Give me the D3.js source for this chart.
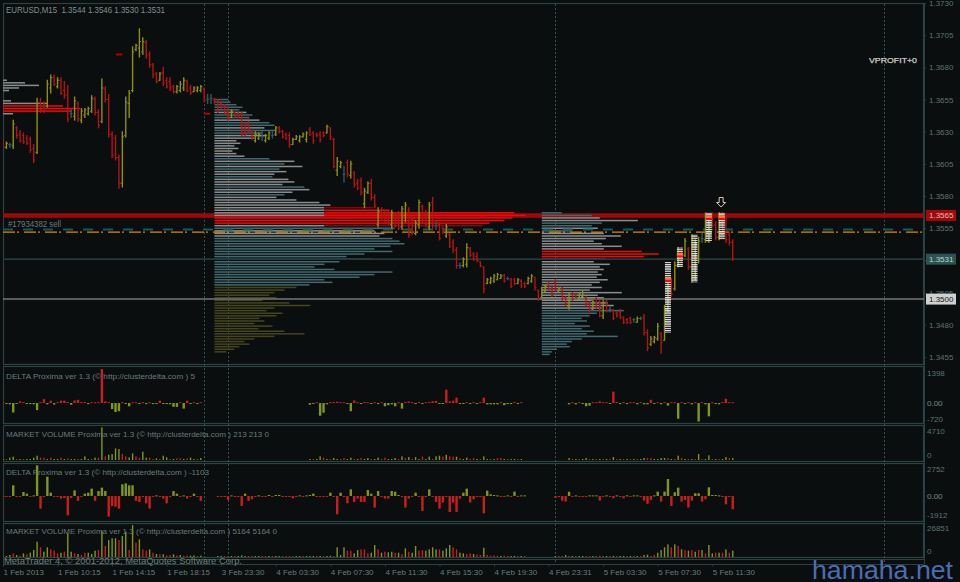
<!DOCTYPE html>
<html><head><meta charset="utf-8">
<script src="https://cdn.jsdelivr.net/npm/d3@7"></script>
<style>
html,body{margin:0;padding:0;background:#0a0e0e;}
svg{display:block;}
text{font-family:"Liberation Sans",Arial,sans-serif;}
</style></head><body>
<svg id="chart" width="960" height="582"></svg>
<script>
// ---------------- DATA ----------------
const symbol = "EURUSD,M15";
const lastOHLC = [1.3544, 1.3546, 1.3530, 1.3531];
const N = 215;
const opens = [1.3622,1.3618,1.3620,1.3619,1.3633,1.3628,1.3627,1.3625,1.3624,1.3617,
1.3614,1.3653,1.3648,1.3650,1.3664,1.3672,1.3665,1.3670,1.3662,1.3659,
1.3644,1.3642,1.3652,1.3639,1.3643,1.3644,1.3646,1.3655,1.3645,1.3638,
1.3663,1.3655,1.3628,1.3625,1.3610,1.3590,1.3627,1.3652,1.3662,1.3694,
1.3695,1.3692,1.3699,1.3690,1.3682,1.3675,1.3670,1.3676,1.3670,1.3669,
1.3665,1.3661,1.3662,1.3664,1.3669,1.3664,1.3661,1.3662,1.3662,1.3663,
1.3655,1.3656,1.3655,1.3653,1.3652,1.3649,1.3645,1.3641,1.3645,1.3644,
1.3643,1.3635,1.3636,1.3630,1.3623,1.3625,1.3626,1.3623,1.3625,1.3627,
1.3628,1.3633,1.3630,1.3628,1.3627,1.3620,1.3624,1.3623,1.3626,1.3624,
1.3632,1.3629,1.3628,1.3628,1.3629,1.3629,1.3633,1.3624,1.3600,1.3603,
1.3597,1.3606,1.3596,1.3598,1.3590,1.3592,1.3574,1.3583,1.3590,1.3579,
1.3558,1.3569,1.3566,1.3566,1.3558,1.3566,1.3564,1.3556,1.3565,1.3569,
1.3562,1.3551,1.3558,1.3572,1.3567,1.3556,1.3575,1.3557,1.3558,1.3555,
1.3549,1.3550,1.3544,1.3538,1.3526,1.3526,1.3527,1.3539,1.3535,1.3533,
1.3529,1.3525,1.3512,1.3513,1.3514,1.3515,1.3516,1.3518,1.3516,1.3515,
1.3515,1.3512,1.3514,1.3512,1.3512,1.3514,1.3517,1.3507,1.3501,1.3506,
1.3512,1.3508,1.3513,1.3506,1.3508,1.3501,1.3494,1.3504,1.3503,1.3500,
1.3502,1.3501,1.3497,1.3492,1.3500,1.3498,1.3487,1.3498,1.3492,1.3491,
1.3489,1.3490,1.3486,1.3484,1.3485,1.3484,1.3482,1.3485,1.3486,1.3474,
1.3465,1.3467,1.3469,1.3473,1.3468,1.3492,1.3510,1.3508,1.3526,1.3538,
1.3534,1.3539,1.3525,1.3520,1.3530,1.3547,1.3546,1.3545,1.3565,1.3558,
1.3548,1.3564,1.3560,1.3550,1.3544];
const highs = [1.3624,1.3622,1.3621,1.3639,1.3634,1.3631,1.3629,1.3627,1.3626,1.3620,
1.3656,1.3656,1.3653,1.3670,1.3674,1.3674,1.3672,1.3672,1.3669,1.3666,
1.3647,1.3657,1.3653,1.3648,1.3648,1.3649,1.3658,1.3657,1.3647,1.3671,
1.3665,1.3659,1.3630,1.3627,1.3612,1.3630,1.3657,1.3662,1.3696,1.3698,
1.3710,1.3703,1.3701,1.3692,1.3683,1.3676,1.3676,1.3680,1.3672,1.3672,
1.3666,1.3666,1.3669,1.3672,1.3670,1.3666,1.3665,1.3665,1.3666,1.3664,
1.3659,1.3659,1.3656,1.3655,1.3653,1.3651,1.3649,1.3647,1.3645,1.3645,
1.3645,1.3637,1.3638,1.3631,1.3630,1.3629,1.3630,1.3628,1.3630,1.3630,
1.3634,1.3634,1.3631,1.3629,1.3629,1.3625,1.3627,1.3627,1.3629,1.3630,
1.3633,1.3630,1.3629,1.3630,1.3630,1.3635,1.3633,1.3625,1.3610,1.3607,
1.3603,1.3608,1.3607,1.3599,1.3593,1.3594,1.3586,1.3591,1.3593,1.3581,
1.3571,1.3571,1.3569,1.3568,1.3569,1.3567,1.3568,1.3572,1.3575,1.3571,
1.3564,1.3561,1.3577,1.3573,1.3569,1.3575,1.3579,1.3560,1.3559,1.3556,
1.3558,1.3551,1.3546,1.3540,1.3528,1.3532,1.3543,1.3540,1.3536,1.3536,
1.3529,1.3525,1.3516,1.3517,1.3519,1.3520,1.3519,1.3519,1.3517,1.3516,
1.3516,1.3516,1.3515,1.3513,1.3517,1.3519,1.3517,1.3507,1.3509,1.3511,
1.3513,1.3509,1.3515,1.3509,1.3509,1.3502,1.3505,1.3505,1.3503,1.3505,
1.3506,1.3502,1.3498,1.3499,1.3501,1.3499,1.3499,1.3499,1.3494,1.3492,
1.3490,1.3492,1.3486,1.3485,1.3486,1.3485,1.3486,1.3486,1.3488,1.3476,
1.3471,1.3471,1.3481,1.3474,1.3495,1.3513,1.3516,1.3529,1.3540,1.3540,
1.3547,1.3540,1.3550,1.3546,1.3548,1.3551,1.3567,1.3563,1.3567,1.3560,
1.3567,1.3567,1.3564,1.3552,1.3546];
const lows = [1.3617,1.3617,1.3618,1.3617,1.3625,1.3622,1.3621,1.3620,1.3614,1.3606,
1.3613,1.3645,1.3645,1.3649,1.3660,1.3666,1.3664,1.3659,1.3656,1.3638,
1.3641,1.3639,1.3638,1.3637,1.3641,1.3643,1.3645,1.3643,1.3633,1.3637,
1.3653,1.3626,1.3610,1.3608,1.3586,1.3587,1.3626,1.3641,1.3661,1.3693,
1.3688,1.3690,1.3687,1.3680,1.3672,1.3668,1.3670,1.3666,1.3664,1.3662,
1.3660,1.3660,1.3661,1.3662,1.3661,1.3659,1.3661,1.3661,1.3661,1.3653,
1.3652,1.3652,1.3652,1.3645,1.3648,1.3643,1.3639,1.3641,1.3641,1.3641,
1.3627,1.3627,1.3629,1.3624,1.3622,1.3624,1.3623,1.3622,1.3624,1.3625,
1.3627,1.3629,1.3625,1.3624,1.3618,1.3620,1.3624,1.3622,1.3626,1.3622,
1.3627,1.3621,1.3626,1.3622,1.3626,1.3629,1.3624,1.3602,1.3596,1.3602,
1.3591,1.3595,1.3594,1.3587,1.3585,1.3581,1.3571,1.3582,1.3577,1.3571,
1.3556,1.3561,1.3559,1.3558,1.3555,1.3556,1.3554,1.3554,1.3560,1.3548,
1.3550,1.3550,1.3555,1.3559,1.3556,1.3554,1.3555,1.3554,1.3546,1.3551,
1.3548,1.3540,1.3536,1.3524,1.3524,1.3525,1.3525,1.3533,1.3530,1.3529,
1.3525,1.3505,1.3512,1.3512,1.3513,1.3515,1.3516,1.3513,1.3515,1.3509,
1.3511,1.3512,1.3509,1.3509,1.3512,1.3513,1.3507,1.3499,1.3501,1.3506,
1.3507,1.3502,1.3506,1.3506,1.3499,1.3495,1.3492,1.3499,1.3501,1.3499,
1.3502,1.3495,1.3490,1.3492,1.3493,1.3486,1.3485,1.3490,1.3490,1.3484,
1.3486,1.3485,1.3481,1.3481,1.3481,1.3482,1.3482,1.3484,1.3472,1.3460,
1.3464,1.3466,1.3468,1.3458,1.3468,1.3490,1.3502,1.3507,1.3525,1.3529,
1.3533,1.3523,1.3513,1.3515,1.3528,1.3544,1.3544,1.3544,1.3556,1.3546,
1.3546,1.3550,1.3544,1.3542,1.3530];
const closes = [1.3618,1.3621,1.3620,1.3636,1.3627,1.3623,1.3622,1.3621,1.3616,1.3608,
1.3652,1.3647,1.3646,1.3667,1.3672,1.3667,1.3670,1.3660,1.3658,1.3640,
1.3644,1.3654,1.3640,1.3646,1.3647,1.3648,1.3656,1.3645,1.3635,1.3664,
1.3655,1.3628,1.3612,1.3610,1.3590,1.3626,1.3653,1.3660,1.3692,1.3697,
1.3700,1.3700,1.3689,1.3682,1.3674,1.3669,1.3675,1.3668,1.3665,1.3664,
1.3661,1.3665,1.3667,1.3670,1.3662,1.3660,1.3664,1.3664,1.3665,1.3654,
1.3655,1.3656,1.3653,1.3646,1.3649,1.3644,1.3640,1.3646,1.3642,1.3642,
1.3629,1.3628,1.3630,1.3625,1.3628,1.3628,1.3626,1.3627,1.3629,1.3627,
1.3633,1.3630,1.3626,1.3625,1.3620,1.3624,1.3626,1.3626,1.3628,1.3629,
1.3628,1.3623,1.3627,1.3624,1.3627,1.3634,1.3626,1.3603,1.3607,1.3606,
1.3597,1.3597,1.3605,1.3589,1.3586,1.3583,1.3584,1.3590,1.3579,1.3572,
1.3568,1.3563,1.3560,1.3559,1.3567,1.3557,1.3555,1.3570,1.3573,1.3550,
1.3552,1.3559,1.3575,1.3561,1.3558,1.3573,1.3557,1.3557,1.3547,1.3552,
1.3556,1.3541,1.3538,1.3526,1.3526,1.3531,1.3540,1.3534,1.3531,1.3530,
1.3526,1.3508,1.3515,1.3516,1.3518,1.3519,1.3518,1.3514,1.3516,1.3510,
1.3512,1.3515,1.3510,1.3510,1.3516,1.3518,1.3509,1.3500,1.3507,1.3510,
1.3508,1.3503,1.3507,1.3508,1.3500,1.3496,1.3503,1.3500,1.3501,1.3504,
1.3505,1.3496,1.3491,1.3498,1.3494,1.3487,1.3497,1.3491,1.3492,1.3485,
1.3487,1.3486,1.3482,1.3482,1.3482,1.3484,1.3485,1.3485,1.3474,1.3462,
1.3469,1.3470,1.3479,1.3466,1.3492,1.3510,1.3504,1.3526,1.3538,1.3531,
1.3545,1.3525,1.3546,1.3543,1.3545,1.3547,1.3563,1.3561,1.3557,1.3548,
1.3564,1.3552,1.3546,1.3544,1.3531];

// time axis: bar index of each label and its text
const timeTickIdx = [0,16,32,48,64,80,96,112,128,144,160,176,192,208];
const timeLabels = ["1 Feb 2013","1 Feb 10:15","1 Feb 14:15","1 Feb 18:15","3 Feb 23:30","4 Feb 03:30","4 Feb 07:30","4 Feb 11:30","4 Feb 15:30","4 Feb 19:30","4 Feb 23:31","5 Feb 03:30","5 Feb 07:30","5 Feb 11:30"];
// period separators (bar index positions)
const separators = [58.9, 66, 161.9, 258.3];
// price axis ticks
const priceTicks = [1.3730,1.3705,1.3680,1.3655,1.3630,1.3605,1.3580,1.3555,1.3530,1.3505,1.3480,1.3455];

// horizontal levels
const resistLevel = 1.3565;
const orderLevel = 1.3554;
const orderLabel = "#17934382 sell";
const stopLevel = 1.3552;
const bidLevel = 1.3531;
const roundLevel = 1.3500;

// indicator segments {start, v, c}
const delta1Seg = [
 {start:0, v:[50,-40,-60,-440,-40,80,40,-40,-50,-60,
 -330,40,180,-60,110,-70,40,110,110,50,
 -80,120,150,40,50,-50,40,40,40,1580,
 80,40,-280,-420,-380,40,-40,-150,40,40,
 -40,40,-50,40,-50,-40,110,-40,-50,-60,
 -180,-180,40,-260,110,-40,40,-40,40]},
 {start:90, v:[-80,-40,40,-590,-450,-60,40,50,60,40,
 40,-40,-380,120,40,-40,50,40,-40,40,
 -50,40,-150,-100,-60,-150,40,-260,50,70,
 40,-40,50,-40,40,50,90,100,-40,-40,
 620,80,110,250,-40,-40,40,-40,40,-40,
 40,250,-60,-60,-60,-60,40,-100,-40,-50,
 50,-40,40]},
 {start:166, v:[-60,40,-60,40,-40,-150,-120,40,40,80,
 40,40,-40,530,50,-50,40,-50,40,40,
 -60,40,-60,-60,150,-40,40,-60,40,-120,
 40,40,-730,40,-40,40,-60,40,-860,40,
 -60,-620,40,-40,-60,50,200,40,40]}
];
const vol1Seg = [
 {start:0, v:[160,160,380,540,160,160,160,160,160,380,
 700,380,380,160,380,160,160,380,160,270,
 160,160,160,160,600,160,160,380,380,5300,
 590,860,970,1890,1780,970,590,430,1080,590,
 380,1350,380,380,160,270,160,700,430,160,
 160,270,270,160,270,380,160,160,320],
  c:"grggrgrggg"+"grrgrggrgr"+"ggrgggrgrg"+"rggggrrggr"+"rggrrgrggr"+"grrgrggrg"},
 {start:90, v:[160,160,160,590,380,160,160,320,160,160,
 320,160,380,160,160,320,160,320,160,160,
 380,160,380,160,160,320,160,590,320,480,
 160,480,160,540,160,540,160,590,700,540,
 860,590,540,540,320,160,380,160,320,160,
 160,590,160,160,160,320,320,160,160,160,
 160,160,160],
  c:"grggrgrggr"+"rggrgrggrg"+"grrgggrgrg"+"rggrggrggr"+"grrgrggrrg"+"rggrgrrgrg"+"grg"},
 {start:166, v:[320,160,160,160,160,320,160,160,160,160,
 160,160,160,480,160,160,160,160,160,160,
 160,160,320,320,320,160,160,320,320,320,
 160,160,700,320,160,160,160,160,970,160,
 160,760,160,160,160,160,480,320,320],
  c:"grgrggrgrg"+"rgrgrgrgrg"+"rggrrggggr"+"grgrgrgrgr"+"ggrgrggrg"}
];
const delta2Seg = [
 {start:0, v:[-140,-60,-100,1100,-100,-100,410,240,-100,60,
 3160,-1310,-60,1990,340,-100,-100,-270,-200,-2000,
 -200,580,-510,-60,240,340,760,-510,510,860,
 510,-2130,-1030,-1100,-1310,1200,1300,1100,1100,-510,
 -620,-100,-760,-1310,-60,60,-100,-270,-760,-100,
 510,240,-60,60,-270,-60,240,-100,-510]},
 {start:63, v:[-60,-60,-100,-410,60,-60,-100,
 -1030,240,-510,-340,-60,60,-100,-100,100,-100,
 100,100,-60,-60,-100,-240,-60,60,-60,60,
 100,240,-100,-100,-60,-100,340,-100,-1890,340,
 -60,-760,680,-620,-270,-620,-620,620,240,-1200,
 510,-100,-270,-270,510,440,100,-100,-1200,-270,
 -60,340,-60,-1550,-60,680,-100,-620,-1310,-680,
 -100,-1650,-680,-1650,-270,340,760,-680,-340,-100,
 -60,-1790,550,170,100,60,-60,-100,60,-60,
 450,-60,60,60]},
 {start:162, v:[-200,-60,-480,-560,440,-100,60,-100,-100,-100,
 60,60,60,-480,-100,60,-100,-240,60,-100,
 -240,60,-100,60,60,-100,-480,-820,-410,60,
 450,-580,450,1750,-1030,380,860,-580,-410,-1200,
 -480,280,280,-580,-340,890,100,100,60,-100,
 -860,-100,-1370]}
];
const vol2Seg = [
 {start:0, v:[900,900,1850,3400,1850,1200,3400,2500,4000,6500,
 14200,9000,4900,9000,7100,5900,3400,4000,4900,21900,
 4900,3400,2800,1850,4000,4000,2800,5900,6500,24000,
 10200,15700,17300,17300,15700,19400,23500,6500,29600,13300,
 16400,7100,5900,7100,4000,2800,2500,2500,1500,1850,
 2500,1500,1850,1200,1500,1200,1500,900,1200],
  c:"rggrgrgrgg"+"grggrrrgrg"+"grgrrgggrg"+"rgggrggrgr"+"grrgrgrgrr"+"grgrrggrg"},
 {start:63, v:[300,
 300,600,900,300,600,300,1500,600,900,600,
 300,300,300,600,300,300,300,600,300,300,
 600,900,300,300,300,300,600,900,300,900,
 900,600,1200,900,9000,1850,9000,5900,5900,3400,
 6500,7100,7100,3400,4000,11100,7100,4000,4900,4300,
 4900,4000,4000,2800,8000,4900,4000,10200,5900,6500,
 5900,7100,9000,7100,7100,5900,8000,11100,9000,7100,
 4000,3400,2800,3400,2800,2200,1850,8600,1850,1200,
 1500,1200,900,1200,900,600,600,300,600,300],
  c:"g"+"grrgrgggrr"+"ggrrgrggrr"+"rrggrgggrg"+"rggrgggrrg"+"grrrggrgrg"+"grgrgrggrr"+"ggggrgggrr"+"ggrrgrrgrr"+"rrgrrggrgr"},
 {start:162, v:[300,600,600,1850,1200,300,300,600,300,300,
 600,300,300,1200,600,300,300,600,300,300,
 900,300,300,300,600,900,1850,2200,900,1850,
 4000,6500,9000,11700,9000,11700,10200,7100,6500,5900,
 6500,4900,6500,6500,3400,11100,3400,4000,4000,4000,
 7100,4000,5900],
  c:"grrgrgrggr"+"rgrrrgrgrg"+"grgrgrggrr"+"ggggrgrgrg"+"rgrgrggrgr"+"grg"}
];

// volume profiles: start bar, top price, row step, volumes per row, row kinds
const profile1 = {start:0, top:1.3670, step:0.0002,
 vols:[4,22,36,16,6,0,0,0,8,45,60,77,69,10], kinds:"ggggggggggrrrg"};
const profile2 = {start:62, top:1.3655, step:0.0002,
 vols:[14,16,22,28,25,32,38,35,45,55,
 60,50,62,48,52,40,22,26,20,24,
 18,22,30,55,80,70,88,65,72,60,
 58,74,80,68,90,95,78,70,62,82,
 105,116,159,175,300,311,298,290,275,268,
 180,160,170,165,178,185,190,176,160,178,
 150,132,158,125,110,100,120,178,160,145,
 110,118,95,82,70,60,55,62,48,75,
 96,60,52,68,62,45,50,40,58,44,
 70,90,60,40,30,35,25,20,12],
 kinds:"tttttgttgt"+"tgttgggggg"+"gggtgtgtgg"+"tgggtggtgg"+"ggdhhhrrrd"+"tgggtttttt"+"tttttttttt"+"tttooooooo"+"oooooooooo"+"ooooooooo"};
const profile3 = {start:158, top:1.3567, step:0.0002,
 vols:[20,50,58,96,60,50,56,30,62,79,
 64,52,60,80,62,100,117,102,64,52,
 68,58,62,56,60,55,66,58,50,60,
 48,80,56,62,50,66,72,60,82,55,
 48,40,45,33,48,40,52,45,76,40,
 30,25,28,15,10,8],
 kinds:"ttggttgtgg"+"gggggrrrgg"+"gggggggggg"+"ggggggggtt"+"tttttttttt"+"tttttt"};
// footprint clusters on the rally: bar position, high, low, point of control
const clusters = [
 {i:195, hi:1.3529, lo:1.3474, poc:1.3515},
 {i:198.5, hi:1.3540, lo:1.3525, poc:1.3534},
 {i:202.8, hi:1.3550, lo:1.3513, poc:null},
 {i:207, hi:1.3567, lo:1.3545, poc:1.3563},
 {i:210.8, hi:1.3567, lo:1.3546, poc:1.3563}
];
const arrowMark = {i:210.6, p:1.3575};
const tradeMarks = [{i:33.1, p:1.3690}, {i:58.9, p:1.3644}];

const panelTitles = [
 "DELTA Proxima ver 1.3 (© http://clusterdelta.com ) 5",
 "MARKET VOLUME Proxima ver 1.3 (© http://clusterdelta.com ) 213 213 0",
 "DELTA Proxima ver 1.3 (© http://clusterdelta.com ) -1103",
 "MARKET VOLUME Proxima ver 1.3 (© http://clusterdelta.com ) 5164 5164 0"
];
const panelRanges = [[-720,1398],[0,4710],[-1912,2752],[0,26851]];

// ---------------- DRAW ----------------
function place(segs){const a=new Array(N).fill(null);segs.forEach(s=>s.v.forEach((v,k)=>{a[s.start+k]=v;}));return a;}
function placeC(segs){const a=new Array(N).fill('g');segs.forEach(s=>{for(let k=0;k<s.v.length;k++)a[s.start+k]=s.c[k]||'g';});return a;}
const delta1=place(delta1Seg), vol1=place(vol1Seg), vol1c=placeC(vol1Seg);
const delta2=place(delta2Seg), vol2=place(vol2Seg), vol2c=placeC(vol2Seg);

const svg=d3.select("#chart");
svg.append("rect").attr("width",960).attr("height",582).attr("fill","#0a0e0e");
const L=3,R=924;
const FR="#2c4242", TXT="#687c7c", AX="#5e7272";
const GREEN="#7f9620", RED="#cc1c1c";

const x=d3.scaleLinear().domain([0,270]).range([3,3+270*3.41]);
const y=d3.scaleLinear().domain([1.3455,1.3730]).range([357,3]);
const yD1=d3.scaleLinear().domain(panelRanges[0]).range([418.5,373]);
const yV1=d3.scaleLinear().domain(panelRanges[1]).range([460,431]);
const yD2=d3.scaleLinear().domain(panelRanges[2]).range([514.5,469.3]);
const yV2=d3.scaleLinear().domain(panelRanges[3]).range([557,528]);
const vS=d3.scaleLinear().domain([0,100]).range([0,100]);

const defs=svg.append("defs");
const clips=[["cMain",3,3,364],["cP1",3,366,423],["cP2",3,425,461],["cP3",3,463,521],["cP4",3,523,557]];
clips.forEach(c=>defs.append("clipPath").attr("id",c[0]).append("rect").attr("x",c[1]).attr("y",c[2]).attr("width",R-c[1]).attr("height",c[3]-c[2]));
const pat=defs.append("pattern").attr("id","stripes").attr("patternUnits","userSpaceOnUse").attr("width",8).attr("height",2.2);
pat.append("rect").attr("width",8).attr("height",1.3).attr("fill","#e6e6e6");

// frames
[[3,364],[366,423],[425,461],[463,521],[523,557]].forEach(p=>{
 svg.append("rect").attr("x",L+0.5).attr("y",p[0]+0.5).attr("width",R-L-1).attr("height",p[1]-p[0]).attr("fill","none").attr("stroke",FR).attr("stroke-width",1.2);
});
svg.append("line").attr("x1",L).attr("x2",R).attr("y1",559.5).attr("y2",559.5).attr("stroke",FR);
svg.append("line").attr("x1",L).attr("x2",R).attr("y1",564.5).attr("y2",564.5).attr("stroke",FR).attr("stroke-width",1.2);
svg.append("line").attr("x1",L+0.5).attr("x2",L+0.5).attr("y1",557).attr("y2",565).attr("stroke",FR);

// separators
svg.append("g").selectAll("line").data(separators).join("line")
 .attr("x1",d=>Math.round(x(d))+0.5).attr("x2",d=>Math.round(x(d))+0.5).attr("y1",4).attr("y2",564)
 .attr("stroke","#2f5252").attr("stroke-dasharray","2,2");

// main panel
const gm=svg.append("g").attr("clip-path","url(#cMain)");
gm.append("line").attr("x1",L).attr("x2",R).attr("y1",y(resistLevel)).attr("y2",y(resistLevel)).attr("stroke","#a00808").attr("stroke-width",4.5);

const KC={t:"#44686f",g:"#8a8e8e",o:"#46461c",r:"#ee0a0a",d:"#8a0606"};
function drawProfile(pf){
 const gp=gm.append("g");
 pf.vols.forEach((v,k)=>{
  if(!v) return;
  const kind=pf.kinds[k]||'g';
  const yc=y(pf.top-k*pf.step);
  const x0=x(pf.start);
  if(kind==='h'||kind==='d'){
   const gl=Math.min(v,110);
   gp.append("rect").attr("x",x0).attr("y",yc-0.75).attr("width",vS(gl)).attr("height",1.5).attr("fill",KC.g);
   gp.append("rect").attr("x",x0+vS(gl)).attr("y",yc-0.75).attr("width",vS(v-gl)).attr("height",1.5).attr("fill",kind==='h'?KC.r:KC.d);
  } else {
   gp.append("rect").attr("x",x0).attr("y",yc-0.75).attr("width",vS(v)).attr("height",1.5).attr("fill",KC[kind]);
  }
 });
}
drawProfile(profile1);drawProfile(profile2);drawProfile(profile3);

// levels
gm.append("line").attr("x1",L).attr("x2",R).attr("y1",y(orderLevel)).attr("y2",y(orderLevel)).attr("stroke","#145a5a").attr("stroke-width",2).attr("stroke-dasharray","10,10");
gm.append("line").attr("x1",L).attr("x2",R).attr("y1",y(stopLevel)).attr("y2",y(stopLevel)).attr("stroke","#e08a00").attr("stroke-width",1.3).attr("stroke-dasharray","12,2,2,5");
gm.append("line").attr("x1",L).attr("x2",R).attr("y1",y(bidLevel)).attr("y2",y(bidLevel)).attr("stroke","#223a3a").attr("stroke-width",1.6);
gm.append("line").attr("x1",L).attr("x2",R).attr("y1",y(roundLevel)).attr("y2",y(roundLevel)).attr("stroke","#767676").attr("stroke-width",1.6);

// trade marks
gm.selectAll(".tm").data(tradeMarks).join("rect").attr("x",d=>x(d.i)).attr("y",d=>y(d.p)-1).attr("width",6.5).attr("height",2).attr("fill","#b00000");

// OHLC bars
const barColor=i=>closes[i]>opens[i]?"#8f8f16":(closes[i]<opens[i]?"#b41414":"#2e5a64");
const gb=gm.append("g");
for(let i=0;i<N;i++){
 const xc=x(i), c=barColor(i);
 gb.append("line").attr("x1",xc).attr("x2",xc).attr("y1",y(highs[i])-0.5).attr("y2",y(lows[i])+0.5).attr("stroke",c).attr("stroke-width",1.4);
 gb.append("line").attr("x1",xc-1.6).attr("x2",xc).attr("y1",y(opens[i])).attr("y2",y(opens[i])).attr("stroke",c).attr("stroke-width",1);
 gb.append("line").attr("x1",xc).attr("x2",xc+1.6).attr("y1",y(closes[i])).attr("y2",y(closes[i])).attr("stroke",c).attr("stroke-width",1);
}
// clusters
clusters.forEach(cl=>{
 gm.append("rect").attr("x",x(cl.i)-3).attr("y",y(cl.hi)).attr("width",6).attr("height",y(cl.lo)-y(cl.hi)).attr("fill","url(#stripes)");
 if(cl.poc!==null){
  gm.append("rect").attr("x",x(cl.i)-3).attr("y",y(cl.poc)-2.5).attr("width",6).attr("height",2.5).attr("fill","#ff7a3a");
  gm.append("rect").attr("x",x(cl.i)-3).attr("y",y(cl.poc)).attr("width",6).attr("height",2).attr("fill","#e81010");
 }
});
// arrow
const ax=x(arrowMark.i), ay=y(arrowMark.p);
gm.append("path").attr("d",`M${ax-2},${ay-5}L${ax+2},${ay-5}L${ax+2},${ay}L${ax+4.5},${ay}L${ax},${ay+4.5}L${ax-4.5},${ay}L${ax-2},${ay}Z`)
 .attr("fill","#0a0e0e").attr("stroke","#d8cfc0").attr("stroke-width",1);

// texts in main panel
svg.append("text").attr("x",6).attr("y",12.5).attr("fill","#7d9090").attr("font-size",9.5).style("white-space","pre")
 .attr("textLength",159).attr("lengthAdjust","spacingAndGlyphs")
 .text(symbol+"  "+lastOHLC.map(v=>v.toFixed(4)).join(" "));
svg.append("text").attr("x",8).attr("y",y(orderLevel)-3).attr("fill",TXT).attr("font-size",8.5)
 .attr("textLength",53).attr("lengthAdjust","spacingAndGlyphs").text(orderLabel);
svg.append("text").attr("x",869).attr("y",63).attr("fill","#cfcfcf").attr("font-size",8)
 .attr("stroke","#cfcfcf").attr("stroke-width",0.25).attr("textLength",48).attr("lengthAdjust","spacingAndGlyphs").text("VPROFIT+0");

// price axis
const pa=svg.append("g").attr("transform",`translate(${R},0)`).call(d3.axisRight(y).tickValues(priceTicks).tickFormat(d3.format(".4f")).tickSize(2));
pa.select(".domain").attr("stroke",FR).attr("d","M0.5,3V564");
pa.selectAll(".tick line").attr("stroke",FR);
pa.selectAll("text").attr("fill",AX).attr("font-size",8).attr("x",5);
// level boxes
function levelBox(p,bg,fg){
 const yy=y(p);
 svg.append("rect").attr("x",926).attr("y",yy-5.5).attr("width",30).attr("height",11).attr("fill",bg);
 svg.append("text").attr("x",929).attr("y",yy+3).attr("fill",fg).attr("font-size",8).text(p.toFixed(4));
}
levelBox(resistLevel,"#a00a0a","#f2b4b4");
levelBox(bidLevel,"#2e5252","#b6d4d4");
levelBox(roundLevel,"#d0d0d0","#141414");

// indicator panels
function barsPanel(vals,colors,ys,clip,w,delta,posColor,negColor){
 const g=svg.append("g").attr("clip-path",`url(#${clip})`);
 const z=ys(0);
 for(let i=0;i<N;i++){
  const v=vals[i]; if(v===null) continue;
  const yv=ys(v);
  let top=Math.min(yv,z), h=Math.max(Math.abs(yv-z),1);
  if(!delta){ top=z-Math.max(z-yv,1); h=Math.max(z-yv,1); }
  const col=delta?(v>=0?posColor:negColor):(colors[i]==='r'?RED:GREEN);
  g.append("rect").attr("x",x(i)-w/2).attr("y",top).attr("width",w).attr("height",h).attr("fill",col);
 }
}
barsPanel(delta1,null,yD1,"cP1",2.4,true,RED,GREEN);
barsPanel(vol1,vol1c,yV1,"cP2",1.4,false);
barsPanel(delta2,null,yD2,"cP3",2.4,true,GREEN,RED);
barsPanel(vol2,vol2c,yV2,"cP4",1.4,false);

const titleY=[375.5,433.5,472,530.5], titleW=[189,263,203,271];
panelTitles.forEach((t,k)=>svg.append("text").attr("x",6).attr("y",titleY[k]+3).attr("fill",TXT).attr("font-size",8)
 .attr("textLength",titleW[k]).attr("lengthAdjust","spacingAndGlyphs").text(t));

function rLabel(t,yy,bold){const s=svg.append("text").attr("x",927).attr("y",yy+3).attr("fill",AX).attr("font-size",8).text(t); if(bold) s.attr("stroke",AX).attr("stroke-width",0.2);}
rLabel(String(panelRanges[0][1]),yD1(panelRanges[0][1])); rLabel("0.00",yD1(0),true); rLabel(String(panelRanges[0][0]),yD1(panelRanges[0][0]));
rLabel(String(panelRanges[1][1]),yV1(panelRanges[1][1])); rLabel("0",455);
rLabel(String(panelRanges[2][1]),yD2(panelRanges[2][1])); rLabel("0.00",yD2(0),true); rLabel(String(panelRanges[2][0]),yD2(panelRanges[2][0]));
rLabel(String(panelRanges[3][1]),yV2(panelRanges[3][1])); rLabel("0",551.2);

// status line
svg.append("text").attr("x",4).attr("y",564).attr("fill","#6a7e7e").attr("font-size",9)
 .attr("textLength",238).attr("lengthAdjust","spacingAndGlyphs").text("MetaTrader 4, © 2001-2012, MetaQuotes Software Corp.");

// time axis
const ta=svg.append("g").attr("transform","translate(0,564.5)").call(d3.axisBottom(x).tickValues(timeTickIdx).tickFormat((d,k)=>timeLabels[k]).tickSize(2));
ta.select(".domain").remove();
ta.selectAll(".tick line").attr("stroke",FR);
ta.selectAll("text").attr("fill",TXT).attr("font-size",8).attr("text-anchor","start").attr("y",5);

// watermark
svg.append("text").attr("x",812).attr("y",579).attr("fill","#4a6db4").attr("font-size",25)
 .attr("textLength",141).attr("lengthAdjust","spacingAndGlyphs").text("hamaha.net");
</script>
</body></html>
